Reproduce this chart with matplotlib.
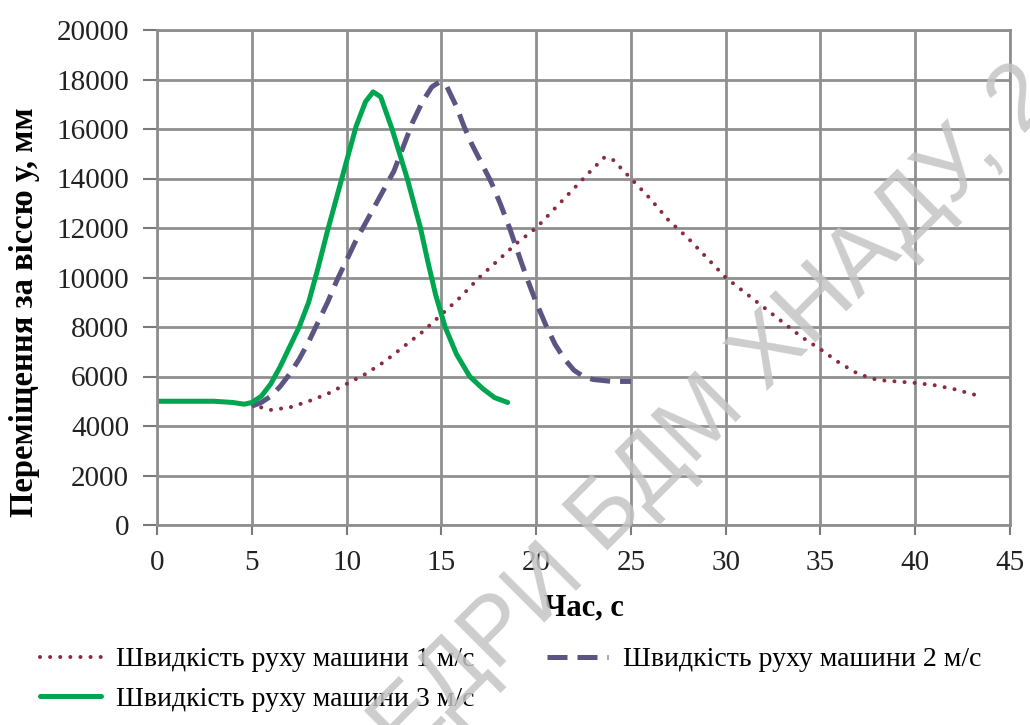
import numpy as np
import matplotlib
matplotlib.use("Agg")
from matplotlib import pyplot as plt

# Швидкість 1 м/с
t1 = [5, 5.5, 6, 7, 8, 9, 10, 11, 12, 13, 14, 15, 16, 17, 18, 19, 20, 21, 22, 23,
      23.6, 24, 25, 26, 27, 28, 29, 30, 31, 32, 33, 34, 35, 36, 37, 38, 39, 40, 41, 42, 43.2]
y1 = [4900, 4750, 4650, 4750, 5000, 5300, 5700, 6100, 6600, 7200, 7800, 8500, 9200, 10000,
      10700, 11400, 12000, 12800, 13600, 14400, 14850, 14800, 14000, 13200, 12300, 11600,
      10800, 10000, 9400, 8800, 8200, 7600, 7100, 6550, 6100, 5860, 5800, 5740, 5650, 5500, 5250]

# Швидкість 2 м/с
t2 = [5, 5.5, 6, 6.5, 7, 7.5, 8, 8.5, 9, 9.5, 10, 10.5, 11, 11.5, 12, 12.5, 13, 13.5, 14,
      14.5, 14.9, 15.3, 15.8, 16.2, 16.6, 17, 17.6, 18.1, 18.6, 19, 19.5, 20, 20.5, 21, 21.5,
      22, 22.5, 23, 24, 25]
y2 = [4800, 4950, 5200, 5600, 6100, 6700, 7400, 8200, 9000, 9900, 10700, 11500, 12200,
      12900, 13600, 14300, 15300, 16300, 17100, 17700, 17900, 17700, 16900, 16100, 15400,
      14800, 13900, 13000, 12000, 11100, 10000, 9000, 8100, 7300, 6700, 6250, 6000, 5880,
      5800, 5800]

# Швидкість 3 м/с
t3 = [0, 2, 3, 4, 4.6, 5, 5.5, 6, 6.5, 7, 7.5, 8, 8.5, 9, 9.5, 10, 10.5, 11, 11.4, 11.8,
      12.4, 13.2, 13.9, 14.3, 14.7, 15.2, 15.8, 16.5, 17.2, 17.8, 18.5]
y3 = [5000, 5000, 5000, 4950, 4880, 4950, 5200, 5700, 6400, 7200, 8000, 9000, 10400, 11900,
      13300, 14700, 16100, 17100, 17500, 17300, 16000, 14000, 12000, 10600, 9300, 8000,
      6900, 6000, 5500, 5150, 4950]

labels = ["Швидкість руху машини 1 м/с", "Швидкість руху машини 2 м/с",
          "Швидкість руху машини 3 м/с"]
xticks = np.arange(0, 46, 5)
yticks = np.arange(0, 20001, 2000)

plt.rcParams["font.family"] = ["Liberation Serif", "DejaVu Serif"]

fig = plt.figure(figsize=(10.3, 7.25), dpi=100)
ax = fig.add_axes([157 / 1030, 1 - 525 / 725, 853 / 1030, 495 / 725])

l1, = ax.plot(t1, y1, color="#8a2b40", lw=2.9, linestyle=(0, (0.01, 2.5)),
              dash_capstyle="round", label=labels[0])
l2, = ax.plot(t2, y2, color="#5b5584", lw=3.6, linestyle=(0, (4, 2)), label=labels[1])
l3, = ax.plot(t3, y3, color="#00a550", lw=3.6, solid_capstyle="round", label=labels[2])

ax.set_xlim(0, 45)
ax.set_ylim(0, 20000)
ax.set_xticks(xticks)
ax.set_yticks(yticks)
ax.grid(True, color="#8f8f8f", lw=2.0)
ax.set_axisbelow(True)
for s in ax.spines.values():
    s.set_color("#8f8f8f")
    s.set_linewidth(2.0)
ax.tick_params(axis="both", width=1.5, color="#7a7a7a", labelsize=21,
               labelcolor="#222222")
ax.tick_params(axis="y", length=10, pad=10)
ax.tick_params(axis="x", length=7, pad=11)

ax.set_xlabel("Час, с", fontsize=22, fontweight="bold")
ax.set_ylabel("Переміщення за віссю у, мм", fontsize=23.5, fontweight="bold")
ax.xaxis.set_label_coords(0.5, -0.138)
ax.yaxis.set_label_coords(-0.137, 0.43)

fig.legend(handles=[l1, l3, l2], loc="upper left", bbox_to_anchor=(15 / 1030, 1 - 622 / 725),
           ncol=2, frameon=False, fontsize=20, handlelength=2.2, handletextpad=0.55,
           columnspacing=2.6, labelspacing=0.5)

# водяний знак
wm = dict(fontsize=68, color="#c4c4c4", rotation=45, rotation_mode="anchor",
          va="baseline", family="Liberation Sans", alpha=0.85, zorder=10)
fig.text(603 / 1030, 1 - 556 / 725, "БДМ ХНАДУ, 2", ha="left", **wm)
fig.text(585 / 1030, 1 - 574 / 725, "КАФЕДРИ", ha="right", **wm)

fig.savefig("out.png", dpi=100)
